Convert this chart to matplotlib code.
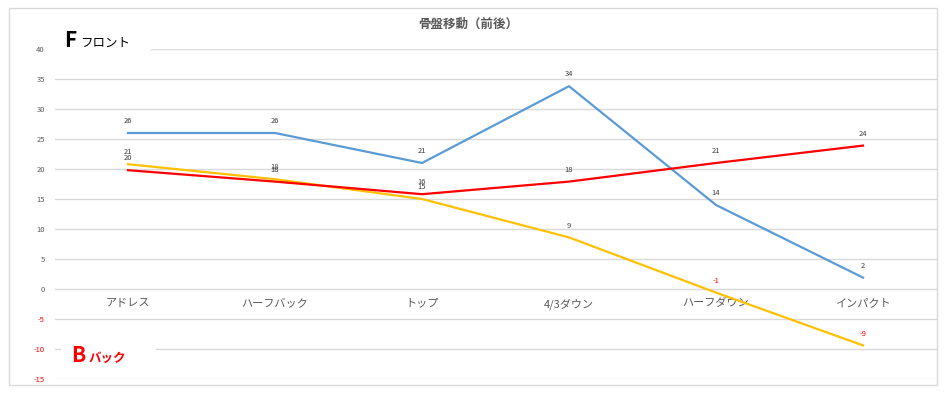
import matplotlib
matplotlib.use("Agg")
import matplotlib.pyplot as plt
from matplotlib.patches import Rectangle
import math

plt.rcParams['font.family'] = ['Noto Sans CJK JP', 'DejaVu Sans']

categories = ["アドレス", "ハーフバック", "トップ", "4/3ダウン", "ハーフダウン", "インパクト"]
blue_vals = [26, 26, 21, 33.8, 14, 1.9]
yellow_vals = [20.8, 18.3, 15, 8.6, -0.6, -9.4]
red_vals = [19.8, 17.9, 15.8, 17.9, 21, 23.9]
yticks = [-15, -10, -5, 0, 5, 10, 15, 20, 25, 30, 35, 40]
title = "骨盤移動（前後）"

W, H = 950, 395
fig = plt.figure(figsize=(W / 100, H / 100), dpi=100)

def fx(x):
    return x / W

def fy(y):
    return 1 - y / H

ax = fig.add_axes([fx(54.5), fy(379), fx(936.5) - fx(54.5), fy(49) - fy(379)])
ax.set_xlim(-0.5, 5.5)
ax.set_ylim(-15, 40)

for sp in ['top', 'right', 'left']:
    ax.spines[sp].set_visible(False)
ax.spines['bottom'].set_position(('data', 0))
ax.spines['bottom'].set_color('#d9d9d9')

ax.set_yticks(yticks)
ax.set_yticklabels([str(v) for v in yticks])
for lab, v in zip(ax.get_yticklabels(), yticks):
    lab.set_color('#ff0000' if v < 0 else '#595959')
ax.tick_params(axis='y', length=0, labelsize=5.5, pad=7)
ax.yaxis.grid(True, color='#d9d9d9', linewidth=1)
ax.set_axisbelow(True)

x = list(range(len(categories)))
ax.set_xticks(x)
ax.set_xticklabels(categories, fontsize=8, color='#595959')
ax.tick_params(axis='x', length=0, pad=6.5)

colors = {'blue': '#5b9bd5', 'yellow': '#ffc000', 'red': '#ff0000'}
for vals, c in [(blue_vals, colors['blue']), (yellow_vals, colors['yellow']), (red_vals, colors['red'])]:
    ax.plot(x, vals, color=c, linewidth=1.6, solid_joinstyle='round', zorder=3)
    for xi, v in zip(x, vals):
        r = int(math.copysign(math.floor(abs(v) + 0.5), v))
        ax.annotate(str(r), (xi, v), xytext=(0, 8.5), textcoords='offset points',
                    ha='center', va='center', fontsize=5.5,
                    color='#ff0000' if r < 0 else '#404040', zorder=4)

# outer border
fig.add_artist(Rectangle((fx(9), fy(385)), fx(937) - fx(9), fy(8) - fy(385),
                         transform=fig.transFigure, fill=False,
                         edgecolor='#d9d9d9', linewidth=1, zorder=0.5))

fig.text(fx(468), fy(24), title, ha='center', va='center', fontsize=9,
         fontweight='bold', color='#595959')

# annotation boxes
fig.add_artist(Rectangle((fx(55), fy(62)), fx(151) - fx(55), fy(28) - fy(62),
                         transform=fig.transFigure, facecolor='white',
                         edgecolor='none', zorder=1))
fig.add_artist(Rectangle((fx(61), fy(370)), fx(156) - fx(61), fy(332) - fy(370),
                         transform=fig.transFigure, facecolor='white',
                         edgecolor='none', zorder=1))
fig.text(fx(64), fy(47), "F", ha='left', va='baseline', fontsize=15,
         fontweight='bold', color='black', zorder=2)
fig.text(fx(80), fy(47), "フロント", ha='left', va='baseline', fontsize=9,
         color='black', zorder=2)
fig.text(fx(71), fy(362), "B", ha='left', va='baseline', fontsize=15,
         fontweight='bold', color='#ff0000', zorder=2)
fig.text(fx(89), fy(362), "バック", ha='left', va='baseline', fontsize=9,
         fontweight='bold', color='#ff0000', zorder=2)

fig.savefig("out.png", dpi=100, facecolor='white')
